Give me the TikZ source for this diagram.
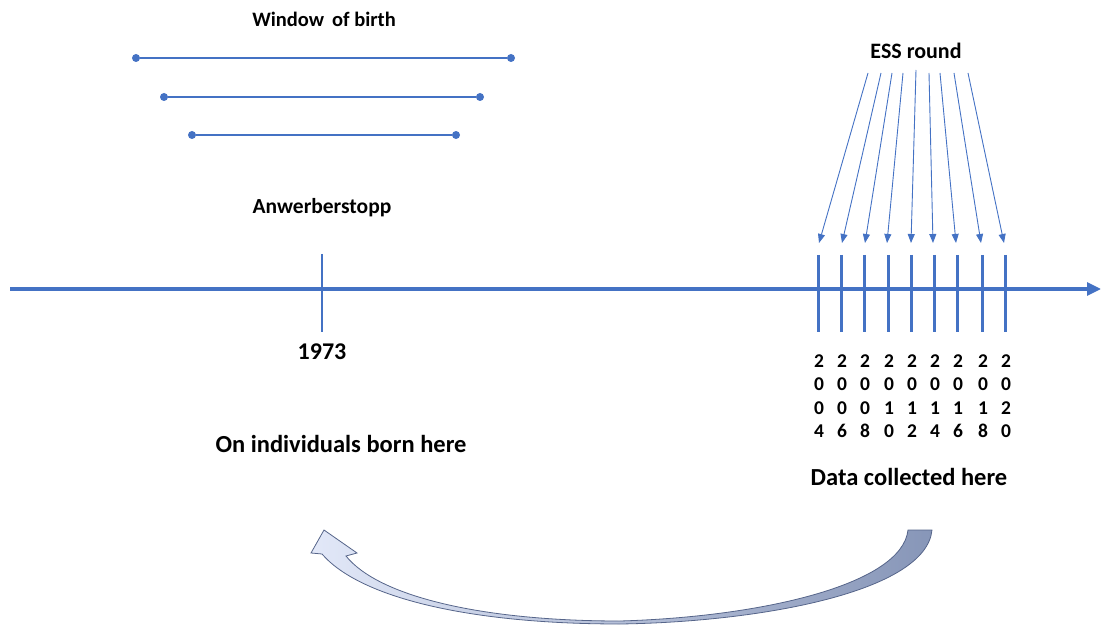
\documentclass[tikz,border=0pt]{standalone}
\usepackage{fontspec}
\setmainfont{Carlito}
\usetikzlibrary{arrows.meta}
\definecolor{axisblue}{HTML}{4472C4}
\definecolor{darkarc}{HTML}{8796B8}
\definecolor{lightarc}{HTML}{E2E8F8}
\definecolor{arcline}{HTML}{56658A}
\tikzset{
  lbl/.style={font=\bfseries\fontsize{#1}{#1}\selectfont, inner sep=0pt, text=black},
  digits/.style={font=\bfseries\fontsize{19.5bp}{23.5bp}\selectfont, inner sep=0pt, align=center, text=black},
  winline/.style={draw=axisblue, line width=2.2bp},
  dot/.style={circle, fill=axisblue, inner sep=0pt, minimum size=8bp},
  tick/.style={draw=axisblue, line width=3bp},
  essarrow/.style={draw=axisblue, line width=0.9bp, -{Triangle[length=9bp,width=7bp]}},
}
\begin{document}
\begin{tikzpicture}[x=1bp,y=-1bp]
\useasboundingbox (0,0) rectangle (1102,628);
% main axis
\coordinate (axL) at (10,289);
\coordinate (axR) at (1101,289);
\draw[draw=axisblue, line width=3.2bp, -{Triangle[length=14bp,width=13bp]}] (axL) -- (axR);
% 1973 tick
\coordinate (t73a) at (322,254);
\coordinate (t73b) at (322,332);
\draw[draw=axisblue, line width=2bp] (t73a) -- (t73b);
\node[lbl=24bp] (y1973) at (322,352) {1973};
\node[lbl=24.5bp] (born) at (341,444) {On individuals born here};
\node[lbl=21.5bp] (anw) at (322,208) {Anwerberstopp};
\node[lbl=20.5bp] (win) at (324,19) {Window\ \,of birth};
% window lines
\node[dot] (w1a) at (136,58) {}; \node[dot] (w1b) at (511,58) {};
\node[dot] (w2a) at (164,97) {}; \node[dot] (w2b) at (480,97) {};
\node[dot] (w3a) at (192,135) {}; \node[dot] (w3b) at (456,135) {};
\draw[winline] (w1a) -- (w1b);
\draw[winline] (w2a) -- (w2b);
\draw[winline] (w3a) -- (w3b);
% ESS
\node[lbl=22bp] (ess) at (916,51) {ESS round};
\node[lbl=24.5bp] (data) at (909,477) {Data collected here};
\foreach \i/\x/\sx/\sy/\ex/\yr in {
  1/818/868/73/819/2004,
  2/841/881/73/842/2006,
  3/864/892/73/865/2008,
  4/888/903/73/887/2010,
  5/911/916/70/911/2012,
  6/934/929/73/933/2014,
  7/957/940/73/956/2016,
  8/982/954/73/981/2018,
  9/1005/968/73/1004/2020} {
  \coordinate (s\i) at (\sx,\sy);
  \coordinate (e\i) at (\ex,243);
  \draw[essarrow] (s\i) -- (e\i);
  \coordinate (ta\i) at (\x,255);
  \coordinate (tb\i) at (\x,332);
  \draw[tick] (ta\i) -- (tb\i);
}
\node[digits] (d1) at (819,396) {2\\0\\0\\4};
\node[digits] (d2) at (842,396) {2\\0\\0\\6};
\node[digits] (d3) at (865,396) {2\\0\\0\\8};
\node[digits] (d4) at (889,396) {2\\0\\1\\0};
\node[digits] (d5) at (912,396) {2\\0\\1\\2};
\node[digits] (d6) at (935,396) {2\\0\\1\\4};
\node[digits] (d7) at (958,396) {2\\0\\1\\6};
\node[digits] (d8) at (983,396) {2\\0\\1\\8};
\node[digits] (d9) at (1006,396) {2\\0\\2\\0};
% curved arrow
\shade[left color=lightarc, right color=darkarc, draw=arcline, line width=0.8bp, line join=miter]
  (908,530) -- (932,530)
  .. controls (926,592) and (760,622) .. (620,624)
  .. controls (470,624) and (360,598) .. (322,554)
  -- (311,553) -- (324,530) -- (357,553) -- (346,556)
  .. controls (378,596) and (480,621) .. (620,621)
  .. controls (760,617) and (902,585) .. cycle;
\end{tikzpicture}
\end{document}
